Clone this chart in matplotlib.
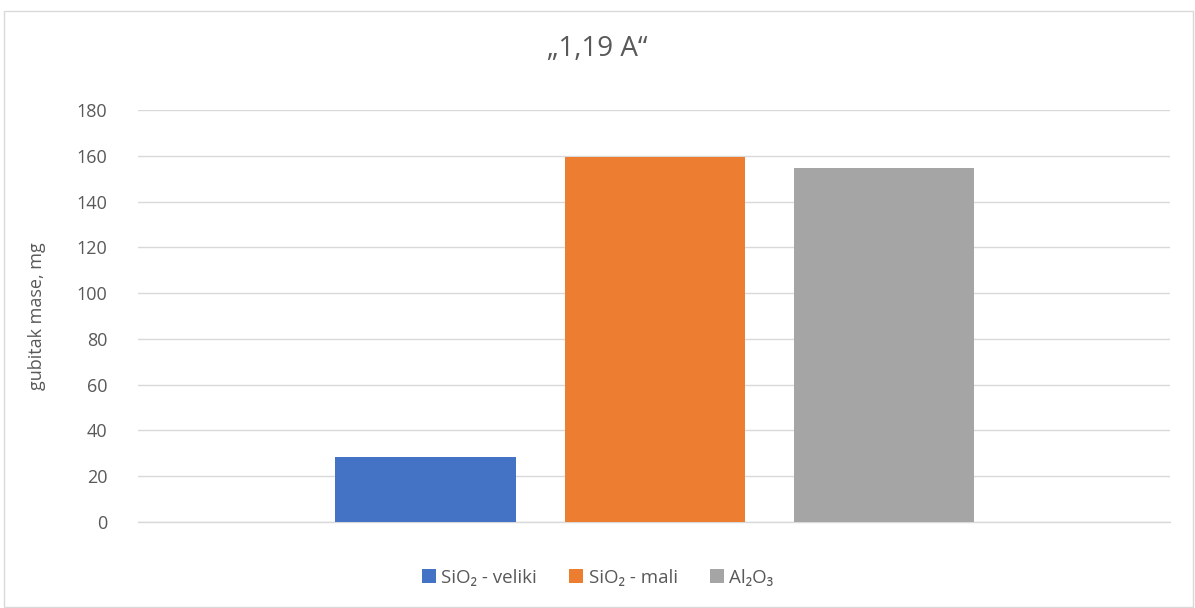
import matplotlib.pyplot as plt
from matplotlib.patches import Rectangle

# data
series = ['SiO\u2082 - veliki', 'SiO\u2082 - mali', 'Al\u2082O\u2083']
values = [28.4, 159.6, 154.6]
colors = ['#4472C4', '#ED7D31', '#A5A5A5']
yticks = [0, 20, 40, 60, 80, 100, 120, 140, 160, 180]

plt.rcParams['font.family'] = ['Open Sans', 'DejaVu Sans']
txt = '#595959'

fig = plt.figure(figsize=(11.95, 6.08), dpi=100)
ax = fig.add_axes([0.1155, 0.1414, 0.979 - 0.1155, 0.819 - 0.1414])

for i, (name, v, c) in enumerate(zip(series, values, colors)):
    ax.bar(i, v, width=0.786, color=c, label=name, zorder=3)

ax.set_xlim(-1.255, 3.25)
ax.set_ylim(0, 180)
ax.set_yticks(yticks)
ax.set_xticks([])
ax.grid(axis='y', color='#D9D9D9', linewidth=1, zorder=0)
ax.axhline(0, color='#D9D9D9', linewidth=1, zorder=2, clip_on=False)
for s in ax.spines.values():
    s.set_visible(False)
ax.tick_params(axis='y', length=0, labelsize=13, labelcolor=txt, pad=22)
ax.set_ylabel('gubitak mase, mg', fontsize=13, color=txt, labelpad=22)

fig.text(0.5, 0.92, '\u201e1,19 A\u201c', ha='center', va='center', fontsize=20, color=txt)

fig.legend(loc='center', bbox_to_anchor=(0.5, 0.05), ncol=3, frameon=False,
           fontsize=13.5, labelcolor=txt, handlelength=0.75, handleheight=0.75,
           handletextpad=0.3, columnspacing=1.7)

# chart border
fig.patches.append(Rectangle((0.003, 0.002), 0.995, 0.98, transform=fig.transFigure,
                             fill=False, edgecolor='#D9D9D9', linewidth=1))

fig.savefig('out.png', dpi=100)
